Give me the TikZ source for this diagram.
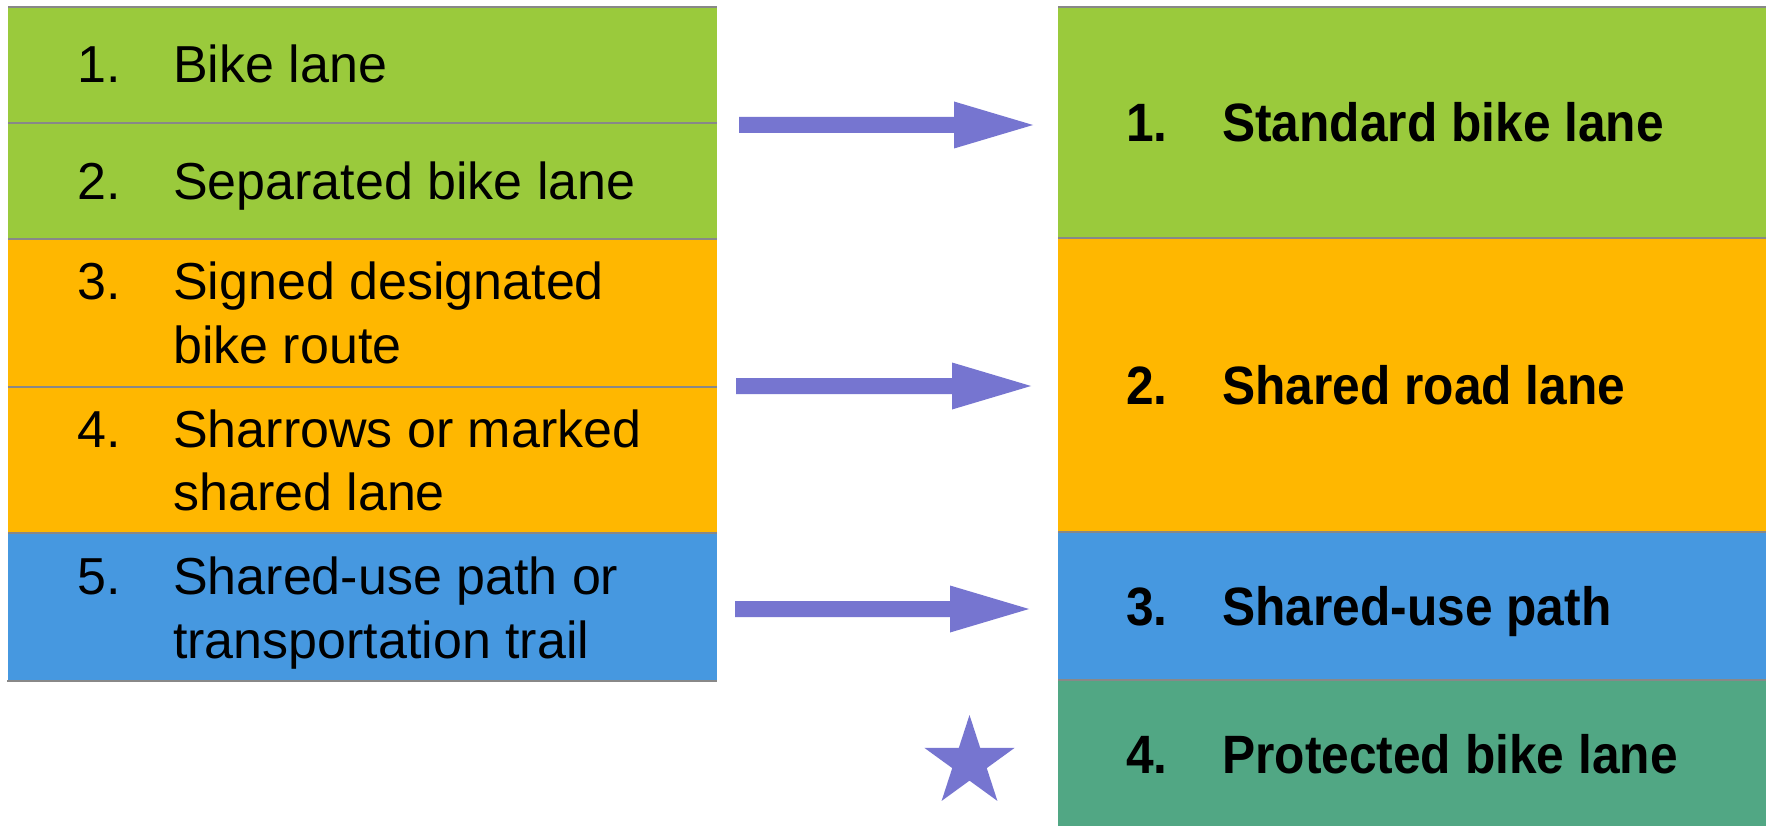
\documentclass[tikz,border=0pt]{standalone}
\usepackage{fontspec}
\setmainfont{Liberation Sans}
\newfontfamily\rightfont[FakeStretch=0.92]{Liberation Sans}
\usetikzlibrary{shapes.geometric,calc}
\definecolor{cgreen}{HTML}{9ACA3C}
\definecolor{corange}{HTML}{FFB700}
\definecolor{cblue}{HTML}{4698E0}
\definecolor{cteal}{HTML}{51A784}
\definecolor{carrow}{HTML}{7675D0}
\definecolor{cgray}{HTML}{888888}
\newcommand{\fatarrow}[2]{%
  \fill[arrowfill] let \p1=(#1), \p2=(#2) in
    (\x1,\y1+8pt) -- (\x2-79pt,\y1+8pt) -- (\x2-79pt,\y1+23.5pt) -- (\x2,\y1)
    -- (\x2-79pt,\y1-23.5pt) -- (\x2-79pt,\y1-8pt) -- (\x1,\y1-8pt) -- cycle;}
\begin{document}
\begin{tikzpicture}[x=1pt,y=-1pt,
  cell/.style={draw=none, inner sep=0pt, outer sep=0pt, anchor=north west},
  lcell/.style={cell, minimum width=709pt},
  rcell/.style={cell, minimum width=708pt},
  ltxt/.style={anchor=base west, inner sep=0pt, font=\fontsize{52}{64}\selectfont},
  rtxt/.style={anchor=base west, inner sep=0pt, font=\rightfont\bfseries\fontsize{54}{64}\selectfont},
  rule/.style={draw=cgray, line width=2.5pt},
  arrowfill/.style={fill=carrow}]
\useasboundingbox (0,0) rectangle (1767,826);
\fill[white] (0,0) rectangle (1767,826);

% left table
\node[lcell, fill=cgreen,  minimum height=116pt] (L1) at (8,7) {};
\node[lcell, fill=cgreen,  minimum height=116pt] (L2) at (8,123) {};
\node[lcell, fill=corange, minimum height=148pt] (L3) at (8,239) {};
\node[lcell, fill=corange, minimum height=146pt] (L4) at (8,387) {};
\node[lcell, fill=cblue,   minimum height=148pt] (L5) at (8,533) {};
\foreach \n in {L1,L2,L3,L4,L5}{\draw[rule] (\n.north west) -- (\n.north east);}
\draw[rule] ([xshift=-1pt]L5.south west) -- (L5.south east);

% right table
\node[rcell, fill=cgreen,  minimum height=231pt] (R1) at (1058,7) {};
\node[rcell, fill=corange, minimum height=294pt] (R2) at (1058,238) {};
\node[rcell, fill=cblue,   minimum height=148pt] (R3) at (1058,532) {};
\node[rcell, fill=cteal,   minimum height=146pt] (R4) at (1058,680) {};
\foreach \n in {R1,R2,R3,R4}{\draw[rule] (\n.north west) -- (\n.north east);}

% left texts
\node[ltxt] (n1) at (77,83) {1.};
\node[ltxt] (t1) at (173,83) {Bike lane};
\node[ltxt] (n2) at (77,200) {2.};
\node[ltxt] (t2) at (173,200) {Separated bike lane};
\node[ltxt] (n3) at (77,300) {3.};
\node[ltxt] (t3a) at (173,300) {Signed designated};
\node[ltxt] (t3b) at (173,363) {bike route};
\node[ltxt] (n4) at (77,447) {4.};
\node[ltxt] (t4a) at (173,447) {Sharrows or marked};
\node[ltxt] (t4b) at (173,510) {shared lane};
\node[ltxt] (n5) at (77,594) {5.};
\node[ltxt] (t5a) at (173,594) {Shared-use path or};
\node[ltxt] (t5b) at (173,658) {transportation trail};

% right texts
\node[rtxt] (m1) at (1126,142) {1.};
\node[rtxt] (s1) at (1222,142) {Standard bike lane};
\node[rtxt] (m2) at (1126,404) {2.};
\node[rtxt] (s2) at (1222,404) {Shared road lane};
\node[rtxt] (m3) at (1126,625) {3.};
\node[rtxt] (s3) at (1222,625) {Shared-use path};
\node[rtxt] (m4) at (1126,773) {4.};
\node[rtxt] (s4) at (1222,773) {Protected bike lane};

% arrows
\coordinate (a1s) at (739,125);
\coordinate (a1t) at (1033,125);
\coordinate (a2s) at (736,386);
\coordinate (a2t) at (1031,386);
\coordinate (a3s) at (735,609);
\coordinate (a3t) at (1029,609);
\fatarrow{a1s}{a1t}
\fatarrow{a2s}{a2t}
\fatarrow{a3s}{a3t}

% star
\node[star, star points=5, star point ratio=2.618, minimum size=95pt,
      inner sep=0pt, fill=carrow] (st) at (969.5,762.5) {};
\end{tikzpicture}
\end{document}
